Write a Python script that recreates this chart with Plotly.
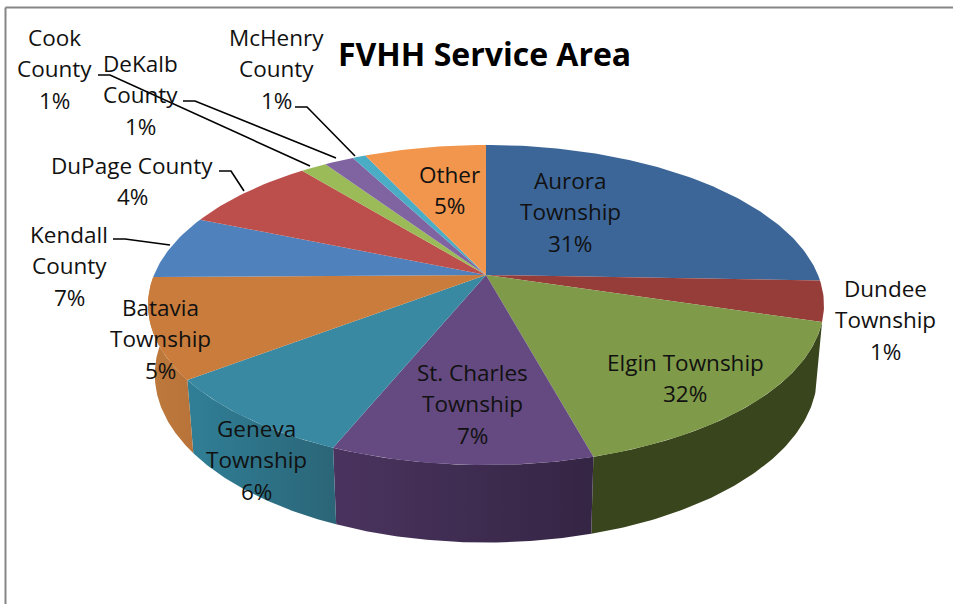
import numpy as np
import plotly.graph_objects as go

# Slice names and the percentages printed on the labels
categories = ["Aurora Township", "Dundee Township", "Elgin Township", "St. Charles Township",
              "Geneva Township", "Batavia Township", "Kendall County", "DuPage County",
              "Cook County", "DeKalb County", "McHenry County", "Other"]
label_percents = [31, 1, 32, 7, 6, 5, 7, 4, 1, 1, 1, 5]
# Visible share of the circle for each slice
drawn_shares = [25.6, 4.1, 16.1, 10.5, 8.5, 10.1, 6.5, 7.8, 1.5, 1.7, 0.75, 7.0]

top_colors = ["#3C6698", "#963D3A", "#7F9A48", "#644A80", "#3A89A3", "#C97C3B",
              "#4F81BD", "#BC4F4B", "#9BBB59", "#8064A2", "#4BACC6", "#F2964D"]
wall_colors = {2: ("#39451C", "#39451C"), 3: ("#4A345F", "#352544"),
               4: ("#307F97", "#2B6577"), 5: ("#BE7A3C", "#B8733A")}

CX, CY, A, B, P = 486.0, 275.0, 332.0, 154.4, 0.1875


def project(theta, bottom=False):
    u, v = np.sin(theta), np.cos(theta)
    d = 1 + P * v
    x = A * u / d
    y = -B * v / d
    if bottom:
        return CX + x * 0.98, CY + y * 1.05 + 68
    return CX + x, CY + y


shares = np.array(drawn_shares) / sum(drawn_shares)
edges = np.concatenate([[0], np.cumsum(shares)]) * 2 * np.pi

fig = go.Figure()

for i, (c1, c2) in wall_colors.items():
    th = np.linspace(edges[i], edges[i + 1], 80)
    xt, yt = project(th)
    xb, yb = project(th[::-1], bottom=True)
    fig.add_trace(go.Scatter(
        x=np.concatenate([xt, xb]), y=np.concatenate([yt, yb]),
        mode="lines", line=dict(width=0), fill="toself",
        fillgradient=dict(type="horizontal", colorscale=[[0, c1], [1, c2]]),
        hoverinfo="skip", showlegend=False))

for i, name in enumerate(categories):
    th = np.linspace(edges[i], edges[i + 1], max(4, int(shares[i] * 400)))
    xt, yt = project(th)
    fig.add_trace(go.Scatter(
        x=np.concatenate([[CX], xt, [CX]]), y=np.concatenate([[CY], yt, [CY]]),
        mode="lines", line=dict(width=0), fill="toself", fillcolor=top_colors[i],
        name=f"{name} {label_percents[i]}%", hoverinfo="name", showlegend=False))

leaders = [
    ([98, 110, 310], [75, 75, 166]),
    ([183, 195, 336], [101, 101, 158]),
    ([295, 307, 355], [107, 107, 156]),
    ([219, 231, 244], [171, 171, 191]),
    ([113, 125, 170], [239, 239, 245]),
]
for lx, ly in leaders:
    fig.add_trace(go.Scatter(x=lx, y=ly, mode="lines", line=dict(color="black", width=1.6),
                             hoverinfo="skip", showlegend=False))

label_layout = {
    "Aurora Township": (["Aurora", "Township"], 570, 180),
    "Dundee Township": (["Dundee", "Township"], 885, 288),
    "Elgin Township": (["Elgin Township"], 685, 362),
    "St. Charles Township": (["St. Charles", "Township"], 472, 372),
    "Geneva Township": (["Geneva", "Township"], 256, 428),
    "Batavia Township": (["Batavia", "Township"], 160, 307),
    "Kendall County": (["Kendall", "County"], 69, 234),
    "DuPage County": (["DuPage County"], 132, 165),
    "Cook County": (["Cook", "County"], 54, 37),
    "DeKalb County": (["DeKalb", "County"], 140, 63),
    "McHenry County": (["McHenry", "County"], 276, 37),
    "Other": (["Other"], 449, 174),
}
FONT = dict(family="Open Sans", size=22.5, color="#111111")
annotations = []
for name, pct in zip(categories, label_percents):
    lines, x, y = label_layout[name]
    for k, text in enumerate(lines + [f"{pct}%"]):
        annotations.append(dict(x=x, y=y + k * 31.7, text=text, showarrow=False,
                                xanchor="center", yanchor="middle", font=FONT))
annotations.append(dict(x=484, y=53, text="<b>FVHH Service Area</b>", showarrow=False,
                        xanchor="center", yanchor="middle",
                        font=dict(family="Open Sans", size=32, color="black")))

fig.update_layout(
    width=953, height=604, margin=dict(l=0, r=0, t=0, b=0),
    paper_bgcolor="white", plot_bgcolor="white", showlegend=False,
    xaxis=dict(range=[0, 953], visible=False, fixedrange=True),
    yaxis=dict(range=[604, 0], visible=False, fixedrange=True),
    annotations=annotations,
    shapes=[
        dict(type="line", x0=5.5, x1=953, y0=7.5, y1=7.5, line=dict(color="#868686", width=2)),
        dict(type="line", x0=5.5, x1=5.5, y0=7.5, y1=604, line=dict(color="#868686", width=2)),
    ],
)
fig.write_html("out.html", config={"displayModeBar": False},
               post_script="document.body.style.margin='0';")
